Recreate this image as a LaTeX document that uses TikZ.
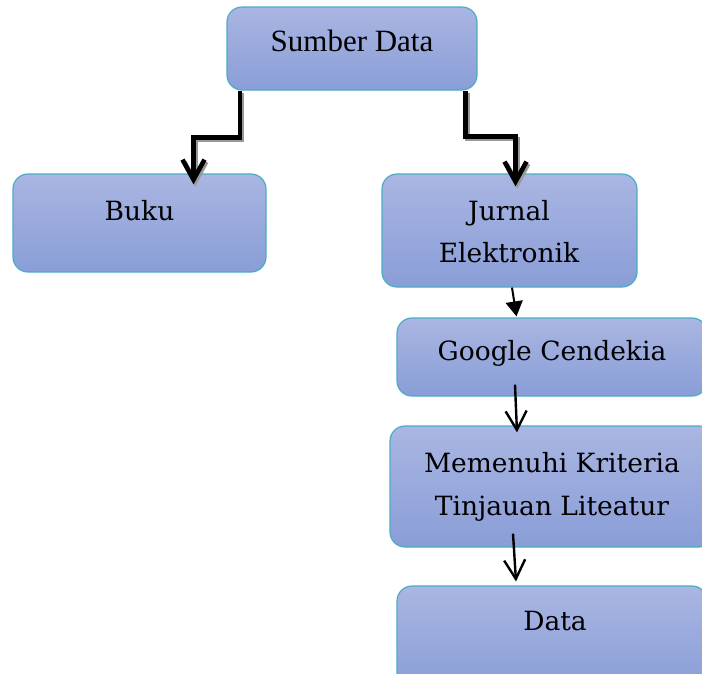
\documentclass[tikz,border=0pt]{standalone}
\usepackage{fontspec}
\newfontfamily\timesfont{Liberation Serif}
\newfontfamily\kotakfont{DejaVu Serif}
\usetikzlibrary{positioning,calc,arrows.meta}

\definecolor{kotakatas}{RGB}{170,182,226}
\definecolor{kotakbawah}{RGB}{137,157,215}
\definecolor{garistepi}{RGB}{75,172,198}

\tikzset{
	kotak/.style={rectangle, rounded corners=15pt, draw=garistepi, line width=1.2pt, top color=kotakatas, bottom color=kotakbawah, inner sep=0pt},
	teks/.style={anchor=base, align=center, inner sep=0pt, font=\kotakfont\fontsize{26.5}{42}\selectfont},
	panahtebal/.style={line width=4.6pt, -{Straight Barb[length=20pt,width=22pt]}},
	bayangan/.style={panahtebal, draw=black!40, transform canvas={xshift=1.8pt,yshift=-2.2pt}},
	panahtipis/.style={line width=2pt, -{Triangle[length=15pt,width=17pt]}},
	panahbuka/.style={line width=2.4pt, -{Straight Barb[length=19pt,width=21pt]}}
}

\begin{document}
\begin{tikzpicture}[x=1pt,y=-1pt]
		\useasboundingbox (0,0) rectangle (702,673);
		\clip (0,0) rectangle (702,673);
		
		\node[kotak, minimum width=250, minimum height=83] (sumber) at (352,48.5) {};
		\node[teks, font=\timesfont\fontsize{31}{36}\selectfont] (sumbert) at (352,51) {Sumber Data};
		
		\node[kotak, minimum width=253, minimum height=98] (buku) at (139.5,223) {};
		\node[teks] (bukut) at (139.5,220) {Buku};
		
		% teks dua baris: base = baris terakhir
		\node[kotak, minimum width=255, minimum height=113] (jurnal) at (509.5,230.5) {};
		\node[teks, font=\kotakfont\fontsize{26.5}{42}\selectfont] (jurnalt) at (509,262) {Jurnal\\Elektronik};
		
		\node[kotak, minimum width=310, minimum height=78] (google) at (552,357) {};
		\node[teks] (googlet) at (552,360.7) {Google Cendekia};
		
		\node[kotak, minimum width=324, minimum height=121] (kriteria) at (552,486.5) {};
		\node[teks, font=\kotakfont\fontsize{26.5}{43}\selectfont] (kriteriat) at (552,515.7) {Memenuhi Kriteria\\Tinjauan Liteatur};
		
		\node[kotak, minimum width=310, minimum height=104] (data) at (552,638) {};
		\node[teks] (datat) at (555,630) {Data};
		
		% panah siku dengan bayangan
		\draw[bayangan] ([xshift=13.5pt]sumber.south west) -- ++(0,47) -| ([xshift=54pt,yshift=-11pt]buku.north);
		\draw[bayangan] ([xshift=-12pt]sumber.south east) -- ++(0,46) -| ([xshift=6pt,yshift=-13pt]jurnal.north);
		\draw[panahtebal] ([xshift=13.5pt]sumber.south west) -- ++(0,47) -| ([xshift=54pt,yshift=-11pt]buku.north);
		\draw[panahtebal] ([xshift=-12pt]sumber.south east) -- ++(0,46) -| ([xshift=6pt,yshift=-13pt]jurnal.north);
		
		\draw[panahtipis] ([xshift=2.5pt]jurnal.south) -- ([xshift=-35.5pt,yshift=1pt]google.north);
		\draw[panahbuka] ([xshift=-37pt,yshift=12pt]google.south) -- ([xshift=-35pt,yshift=-7pt]kriteria.north);
		\draw[panahbuka] ([xshift=-39pt,yshift=14pt]kriteria.south) -- ([xshift=-36pt,yshift=4pt]data.north);
\end{tikzpicture}
\end{document}
